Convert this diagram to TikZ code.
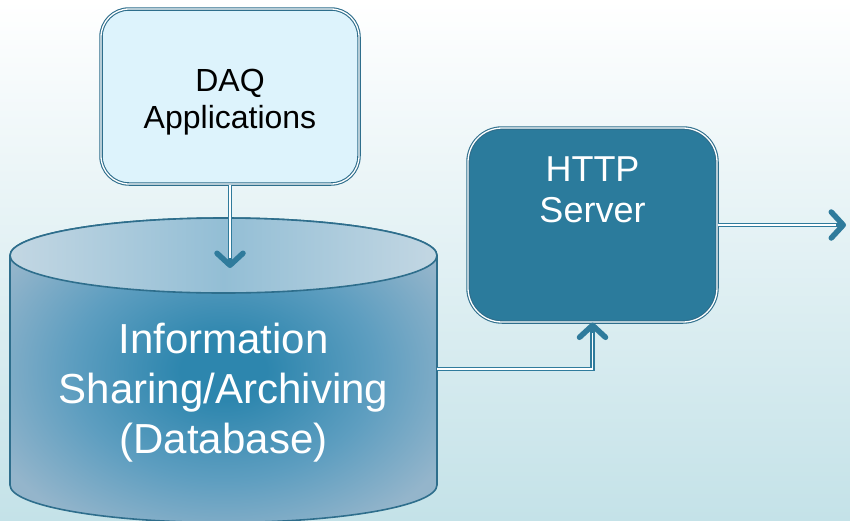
\documentclass[tikz,border=0pt]{standalone}
\usepackage{fontspec}
\setmainfont{Liberation Sans}
\usetikzlibrary{arrows.meta}
\definecolor{boxline}{HTML}{2E6E8C}
\definecolor{daqfill}{HTML}{DDF3FC}
\definecolor{httpfill}{HTML}{2B7B9C}
\definecolor{arrowc}{HTML}{2F7B9C}
\definecolor{dbmid}{HTML}{2D86AE}
\definecolor{dbmidb}{HTML}{5E9EC0}
\definecolor{dbedge}{HTML}{94B5CB}
\definecolor{dbtopa}{HTML}{C3D7E3}
\definecolor{dbtopb}{HTML}{93BED5}
\definecolor{bgmid}{HTML}{EEF7FA}
\definecolor{bgbottom}{HTML}{C4E2E8}
\pgfdeclareradialshading{dbshade}{\pgfpoint{0bp}{0bp}}{color(0bp)=(dbmid); color(5bp)=(dbmid);
  color(18bp)=(dbmidb); color(30bp)=(dbedge); color(50bp)=(dbedge)}
\begin{document}
\begin{tikzpicture}[x=1pt,y=-1pt,
  box/.style={rounded corners=28pt,draw=boxline,line width=1.1pt,double=white,double distance=1.3pt},
  conn/.style={arrowc,line width=4.4pt,-{Straight Barb[length=12pt,width=26pt,line width=5.5pt,round]},
    postaction={draw=white,line width=1.6pt,-,shorten >=10pt}},
  boxtext/.style={anchor=north,inner sep=0pt,align=center}]
  % background
  \useasboundingbox (0,0) rectangle (850,520);
  \clip (0,0) rectangle (850,520);
  \shade[top color=white,middle color=bgmid,bottom color=bgbottom] (0,0) rectangle (850,520);

  % database cylinder
  \shade[shading=dbshade,draw=boxline,line width=1.6pt]
    (10,255.5) -- (10,485) arc[start angle=180,end angle=0,x radius=213.5,y radius=37.5]
    -- (437,255.5) arc[start angle=0,end angle=-180,x radius=213.5,y radius=37.5] -- cycle;
  \shade[left color=dbtopa,right color=dbtopa,middle color=dbtopb,draw=boxline,line width=1.6pt]
    (223.5,255.5) ellipse[x radius=213.5,y radius=37.5];
  \node[text=white,align=center,inner sep=0pt,font=\fontsize{42}{50}\selectfont] (db) at (223.5,393)
    {Information\\Sharing/Archiving\\(Database)};
  \coordinate (dbin) at (230,268);
  \coordinate (dbout) at (437,369);

  % boxes
  \node[box,fill=daqfill,minimum width=258pt,minimum height=175pt,
    label={[boxtext,yshift=-61pt,font=\fontsize{32}{37}\selectfont]north:{DAQ\\Applications}}]
    (daq) at (230,96.5) {};
  \node[box,fill=httpfill,rounded corners=34pt,minimum width=249pt,minimum height=194pt,
    label={[boxtext,yshift=-29pt,text=white,font=\fontsize{36}{41}\selectfont]north:{HTTP\\Server}}]
    (http) at (592.5,225) {};
  \coordinate (out) at (846,225);

  % connectors
  \draw[conn] (daq.south) -- (dbin);
  \draw[conn] (dbout) -| (http.south);
  \draw[conn] (http.east) -- (out);
\end{tikzpicture}
\end{document}
